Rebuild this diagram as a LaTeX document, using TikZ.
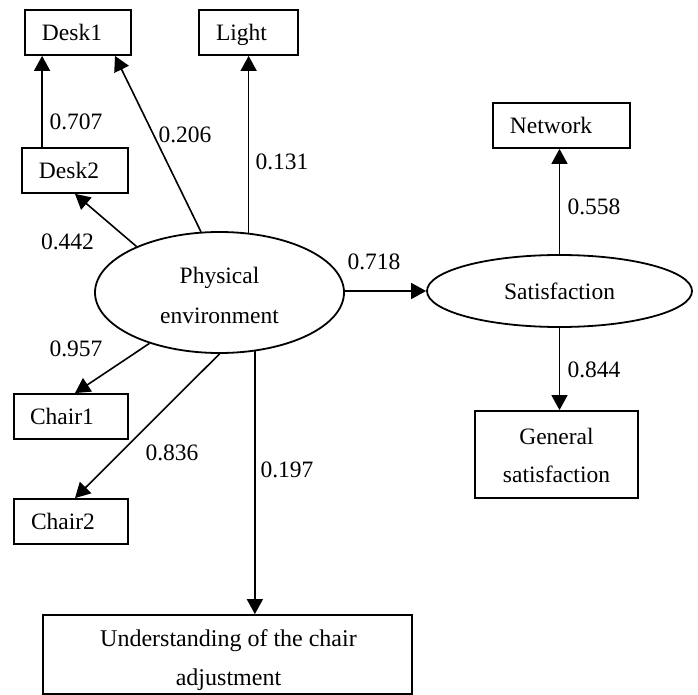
\documentclass[tikz,border=0pt]{standalone}
\usepackage{fontspec}
\setmainfont{Liberation Serif}
\usetikzlibrary{arrows.meta,calc,shapes.geometric}
\begin{document}
\begin{tikzpicture}[x=1pt,y=-1pt,
  every node/.style={font=\fontsize{23.5}{28}\selectfont, inner sep=0pt},
  box/.style={draw, line width=1.8pt, rectangle, text depth=0pt},
  latent/.style={draw, line width=1.8pt, ellipse},
  txt/.style={align=center},
  arr/.style={line width=1.6pt, -{Triangle[length=15pt,width=16pt]}}]
\useasboundingbox (0,0) rectangle (698,695);
% observed variables
\node[box, minimum width=106pt, minimum height=45pt] (desk1) at (78,32.5) {Desk1\hspace*{12pt}};
\node[box, minimum width=99pt, minimum height=45pt] (light) at (248.5,32.5) {Light\hspace*{14pt}};
\node[box, minimum width=106pt, minimum height=45pt] (desk2) at (75,170.5) {Desk2\hspace*{12pt}};
\node[box, minimum width=114pt, minimum height=45pt] (chair1) at (71,416.5) {Chair1\hspace*{18pt}};
\node[box, minimum width=114pt, minimum height=45pt] (chair2) at (71,521.5) {Chair2\hspace*{16pt}};
\node[box, minimum width=137pt, minimum height=45pt] (network) at (561.5,125.5) {Network\hspace*{21pt}};
\node[box, minimum width=163pt, minimum height=87pt] (gensat) at (556.5,454.5) {};
\node[txt, font=\fontsize{23.5}{38}\selectfont] (gensat-t) at ($(gensat)+(0,0.5)$) {General\\satisfaction};
\node[box, minimum width=369pt, minimum height=79pt] (underst) at (227.5,654.5) {};
\node[txt, font=\fontsize{24}{39}\selectfont] (underst-t) at ($(underst)+(1,6)$) {Understanding of the chair\\adjustment};
% latent variables
\node[latent, minimum width=249pt, minimum height=121pt] (phys) at (219.5,292.5) {};
\node[txt, font=\fontsize{23.5}{40}\selectfont] (phys-t) at ($(phys)+(0,3)$) {Physical\\environment};
\node[latent, minimum width=265pt, minimum height=72pt] (sat) at (559.5,291) {Satisfaction};
% connectors
\draw[arr] ($(desk2.north west)+(21,0)$) coordinate (a1) -- (a1 |- desk1.south);
\draw[arr] (phys.107.6) -- ($(desk1.south)+(37,0)$);
\draw[arr] (phys.64.2) -- (phys.64.2 |- light.south);
\draw[arr] (phys.151.8) -- (desk2.south);
\draw[arr] (phys.-144.8) -- ($(chair1.north)+(4,0)$);
\draw[arr] (phys.south) -- ($(chair2.north)+(4,0)$);
\draw[arr] (phys.-59.3) -- (phys.-59.3 |- underst.north);
\draw[arr] (sat.west -| phys.east) -- (sat.west);
\draw[arr] (sat.north) -- (sat.north |- network.south);
\draw[arr] (sat.south) -- (sat.south |- gensat.north);
% coefficients
\node (c1) at (76,121.5) {0.707};
\node (c2) at (185,135) {0.206};
\node (c3) at (282,162) {0.131};
\node (c4) at (67.5,242) {0.442};
\node (c5) at (374,262) {0.718};
\node (c6) at (594,207) {0.558};
\node (c7) at (594,370) {0.844};
\node (c8) at (76,349) {0.957};
\node (c9) at (172,453) {0.836};
\node (c10) at (287,470) {0.197};
\end{tikzpicture}
\end{document}
